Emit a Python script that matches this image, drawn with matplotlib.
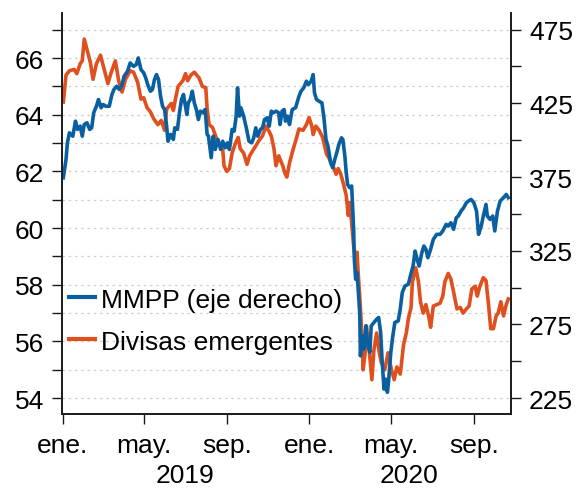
import matplotlib
matplotlib.use("Agg")
import matplotlib.pyplot as plt
import matplotlib.transforms as mtransforms
from matplotlib.lines import Line2D
import pandas as pd

# Divisas emergentes (eje izquierdo)
divisas_fechas = [
    "2019-01-02", "2019-01-06", "2019-01-11", "2019-01-18", "2019-01-22", "2019-01-27",
    "2019-01-30", "2019-02-02", "2019-02-06", "2019-02-11", "2019-02-15", "2019-02-20",
    "2019-02-26", "2019-03-04", "2019-03-09", "2019-03-14", "2019-03-20", "2019-03-25",
    "2019-03-30", "2019-04-04", "2019-04-11", "2019-04-16", "2019-04-22", "2019-04-27",
    "2019-05-01", "2019-05-06", "2019-05-11", "2019-05-16", "2019-05-22", "2019-05-27",
    "2019-06-01", "2019-06-04", "2019-06-11", "2019-06-14", "2019-06-17", "2019-06-21",
    "2019-06-28", "2019-07-02", "2019-07-05", "2019-07-10", "2019-07-15", "2019-07-22",
    "2019-07-27", "2019-08-01", "2019-08-03", "2019-08-06", "2019-08-11", "2019-08-17",
    "2019-08-22", "2019-08-26", "2019-08-28", "2019-09-01", "2019-09-05", "2019-09-09",
    "2019-09-14", "2019-09-18", "2019-09-21", "2019-09-26", "2019-10-01", "2019-10-05",
    "2019-10-10", "2019-10-14", "2019-10-19", "2019-10-24", "2019-10-29", "2019-11-03",
    "2019-11-06", "2019-11-10", "2019-11-13", "2019-11-17", "2019-11-23", "2019-11-26",
    "2019-11-29", "2019-12-03", "2019-12-08", "2019-12-13", "2019-12-17", "2019-12-23",
    "2019-12-28", "2020-01-01", "2020-01-05", "2020-01-07", "2020-01-11", "2020-01-16",
    "2020-01-21", "2020-01-24", "2020-01-27", "2020-01-31", "2020-02-03", "2020-02-07",
    "2020-02-10", "2020-02-13", "2020-02-17", "2020-02-21", "2020-02-25", "2020-02-28",
    "2020-03-01", "2020-03-04", "2020-03-07", "2020-03-10", "2020-03-12", "2020-03-14",
    "2020-03-16", "2020-03-19", "2020-03-21", "2020-03-24", "2020-03-26", "2020-03-30",
    "2020-04-03", "2020-04-06", "2020-04-10", "2020-04-14", "2020-04-17", "2020-04-22",
    "2020-04-27", "2020-05-02", "2020-05-06", "2020-05-10", "2020-05-15", "2020-05-20",
    "2020-05-24", "2020-05-27", "2020-05-31", "2020-06-02", "2020-06-07", "2020-06-11",
    "2020-06-14", "2020-06-18", "2020-06-22", "2020-06-26", "2020-06-29", "2020-07-03",
    "2020-07-08", "2020-07-13", "2020-07-17", "2020-07-20", "2020-07-25", "2020-07-29",
    "2020-08-02", "2020-08-07", "2020-08-12", "2020-08-16", "2020-08-21", "2020-08-25",
    "2020-08-29", "2020-09-03", "2020-09-06", "2020-09-10", "2020-09-15", "2020-09-19",
    "2020-09-23", "2020-09-26", "2020-09-30", "2020-10-04", "2020-10-07", "2020-10-11",
    "2020-10-15", "2020-10-19", "2020-10-22",
]
divisas = [
    64.45, 65.4, 65.55, 65.6, 65.45, 65.8,
    65.9, 66.67, 66.3, 65.85, 65.25, 65.8,
    66.1, 65.55, 65.1, 65.5, 65.9, 65.2,
    64.8, 65.25, 65.55, 65.5, 65.15, 64.55,
    64.6, 64.25, 64.1, 63.85, 63.65, 63.8,
    63.45, 64.2, 64.4, 64.15, 64.55, 65.0,
    65.2, 65.45, 65.2, 65.4, 65.5, 65.3,
    65.0, 64.95, 64.2, 63.65, 63.55, 63.15,
    62.9, 62.8, 62.2, 62.0, 62.1, 62.65,
    63.0, 63.2, 62.8, 62.65, 62.25, 62.55,
    62.75, 62.9, 63.1, 63.25, 63.6, 63.4,
    63.25, 62.8, 62.2, 62.55, 62.2, 61.95,
    61.8, 62.3, 62.75, 63.15, 63.5, 63.45,
    63.65, 63.9, 63.6, 63.3, 63.6, 63.45,
    63.2, 62.9, 62.6, 62.45, 62.25, 62.1,
    61.9, 62.1, 61.9, 61.55, 61.15, 60.45,
    60.9, 60.2, 59.35, 58.8, 59.15, 58.3,
    57.6, 56.3, 55.0, 55.6, 56.55, 55.7,
    54.65, 55.7, 56.3, 55.6, 55.25, 55.0,
    55.6, 55.0, 54.65, 55.1, 54.85, 55.9,
    56.3, 56.8, 57.2, 58.1, 58.6, 58.1,
    57.4, 57.0, 57.3, 56.9, 56.5, 57.25,
    57.3, 57.35, 57.6, 58.1, 58.4, 58.2,
    57.75, 57.15, 57.2, 57.0, 57.15, 57.25,
    57.85, 57.95, 57.6, 57.95, 58.25, 58.15,
    57.25, 56.45, 56.45, 56.9, 57.0, 57.4,
    56.9, 57.3, 57.5,
]

# MMPP (eje derecho)
mmpp_fechas = [
    "2019-01-02", "2019-01-06", "2019-01-08", "2019-01-11", "2019-01-16", "2019-01-20",
    "2019-01-23", "2019-01-27", "2019-01-30", "2019-02-02", "2019-02-06", "2019-02-10",
    "2019-02-13", "2019-02-16", "2019-02-20", "2019-02-23", "2019-02-27", "2019-03-02",
    "2019-03-06", "2019-03-11", "2019-03-15", "2019-03-18", "2019-03-22", "2019-03-26",
    "2019-03-30", "2019-04-02", "2019-04-07", "2019-04-11", "2019-04-16", "2019-04-20",
    "2019-04-23", "2019-04-27", "2019-05-01", "2019-05-04", "2019-05-07", "2019-05-11",
    "2019-05-14", "2019-05-17", "2019-05-20", "2019-05-23", "2019-05-26", "2019-05-29",
    "2019-06-01", "2019-06-04", "2019-06-06", "2019-06-10", "2019-06-14", "2019-06-16",
    "2019-06-20", "2019-06-23", "2019-06-26", "2019-06-29", "2019-07-01", "2019-07-04",
    "2019-07-06", "2019-07-09", "2019-07-12", "2019-07-15", "2019-07-18", "2019-07-21",
    "2019-07-24", "2019-07-28", "2019-07-31", "2019-08-03", "2019-08-05", "2019-08-09",
    "2019-08-12", "2019-08-15", "2019-08-19", "2019-08-23", "2019-08-26", "2019-08-30",
    "2019-09-02", "2019-09-05", "2019-09-09", "2019-09-12", "2019-09-15", "2019-09-17",
    "2019-09-20", "2019-09-22", "2019-09-26", "2019-09-30", "2019-10-04", "2019-10-08",
    "2019-10-11", "2019-10-14", "2019-10-17", "2019-10-21", "2019-10-24", "2019-10-27",
    "2019-10-31", "2019-11-03", "2019-11-06", "2019-11-09", "2019-11-13", "2019-11-17",
    "2019-11-19", "2019-11-22", "2019-11-25", "2019-11-27", "2019-11-30", "2019-12-03",
    "2019-12-07", "2019-12-12", "2019-12-17", "2019-12-20", "2019-12-24", "2019-12-28",
    "2019-12-31", "2020-01-04", "2020-01-07", "2020-01-09", "2020-01-12", "2020-01-16",
    "2020-01-20", "2020-01-23", "2020-01-26", "2020-01-29", "2020-02-02", "2020-02-05",
    "2020-02-08", "2020-02-11", "2020-02-14", "2020-02-18", "2020-02-20", "2020-02-23",
    "2020-02-25", "2020-02-27", "2020-03-01", "2020-03-04", "2020-03-05", "2020-03-07",
    "2020-03-08", "2020-03-10", "2020-03-12", "2020-03-14", "2020-03-16", "2020-03-17",
    "2020-03-20", "2020-03-22", "2020-03-25", "2020-03-27", "2020-03-31", "2020-04-02",
    "2020-04-06", "2020-04-10", "2020-04-13", "2020-04-16", "2020-04-18", "2020-04-21",
    "2020-04-23", "2020-04-26", "2020-04-28", "2020-05-01", "2020-05-04", "2020-05-07",
    "2020-05-12", "2020-05-15", "2020-05-18", "2020-05-22", "2020-05-27", "2020-05-30",
    "2020-06-03", "2020-06-06", "2020-06-09", "2020-06-12", "2020-06-16", "2020-06-19",
    "2020-06-22", "2020-06-25", "2020-06-29", "2020-07-03", "2020-07-08", "2020-07-13",
    "2020-07-17", "2020-07-22", "2020-07-25", "2020-07-29", "2020-08-02", "2020-08-06",
    "2020-08-09", "2020-08-13", "2020-08-17", "2020-08-21", "2020-08-24", "2020-08-28",
    "2020-09-01", "2020-09-05", "2020-09-08", "2020-09-12", "2020-09-15", "2020-09-19",
    "2020-09-21", "2020-09-25", "2020-09-29", "2020-10-02", "2020-10-06", "2020-10-10",
    "2020-10-15", "2020-10-19", "2020-10-22",
]
mmpp = [
    374.5, 387.0, 398.2, 405.0, 402.7, 412.9,
    407.3, 409.5, 402.7, 410.6, 411.8, 407.3,
    408.4, 418.6, 423.0, 427.6, 422.0, 424.2,
    423.0, 423.0, 431.0, 434.4, 436.6, 434.4,
    437.7, 443.4, 446.7, 452.4, 450.1, 451.3,
    455.8, 447.9, 445.7, 442.3, 437.7, 433.2,
    434.4, 441.1, 444.5, 441.1, 429.8, 423.0,
    420.8, 409.5, 399.3, 403.9, 400.5, 408.4,
    407.3, 418.6, 427.6, 431.0, 425.3, 417.4,
    425.3, 427.6, 433.2, 425.3, 420.8, 414.0,
    419.7, 418.6, 420.8, 403.9, 402.7, 388.1,
    402.7, 393.7, 400.5, 393.7, 399.3, 394.9,
    398.2, 393.7, 407.3, 406.1, 416.3, 435.5,
    416.3, 422.0, 416.3, 408.4, 399.3, 398.2,
    401.6, 408.4, 402.7, 407.3, 408.4, 414.0,
    415.2, 409.5, 419.7, 418.6, 419.7, 418.6,
    410.6, 419.7, 420.8, 412.9, 416.3, 410.6,
    420.8, 422.0, 429.8, 433.2, 435.5, 440.0,
    437.7, 440.0, 444.5, 432.1, 427.6, 426.4,
    425.3, 415.2, 400.5, 395.9, 384.7, 381.3,
    386.9, 391.5, 397.1, 401.6, 400.5, 389.2,
    377.9, 370.0, 367.8, 368.9, 359.8, 339.5,
    319.2, 305.6, 310.2, 296.6, 283.1, 253.7,
    267.2, 258.2, 274.0, 262.7, 256.0, 274.0,
    276.3, 278.5, 279.7, 269.5, 251.4, 231.1,
    237.9, 228.9, 237.9, 256.0, 267.2, 276.3,
    277.4, 285.3, 296.6, 301.1, 302.2, 307.9,
    314.6, 324.8, 319.2, 314.6, 323.7, 328.2,
    326.0, 320.3, 326.0, 332.7, 336.1, 336.1,
    338.4, 342.9, 341.7, 344.0, 339.5, 347.4,
    348.5, 351.9, 354.2, 357.6, 358.7, 359.8,
    357.6, 351.9, 336.1, 341.7, 348.5, 356.4,
    348.5, 346.3, 348.5, 338.4, 351.9, 358.7,
    361.0, 363.2, 361.0,
]

meses_ticks = ["2019-01-01", "2019-05-01", "2019-09-01",
               "2020-01-01", "2020-05-01", "2020-09-01"]
meses_labels = ["ene.", "may.", "sep.", "ene.", "may.", "sep."]
anios = ["2019", "2020"]
anios_pos = ["2019-07-01", "2020-05-28"]

AZUL = "#0A5FA0"
NARANJA = "#E0501E"
FS = 19

plt.rcParams["font.family"] = ["Liberation Sans", "DejaVu Sans"]

fig = plt.figure(figsize=(5.76, 4.89), dpi=100)
ax = fig.add_axes([0.1076, 0.1513, 0.7795, 0.8201])
ax2 = ax.twinx()

ax.plot(pd.to_datetime(divisas_fechas), divisas, color=NARANJA, lw=2.6,
        solid_joinstyle="round")
ax2.plot(pd.to_datetime(mmpp_fechas), mmpp, color=AZUL, lw=2.6,
         solid_joinstyle="round")

ax.set_xlim(pd.Timestamp("2018-12-31"), pd.Timestamp("2020-10-26"))
ax.set_ylim(53.44, 67.59)
ax2.set_ylim(214.2, 486.3)

ax.set_yticks(range(54, 67, 2))
ax.set_yticks(range(55, 68, 2), minor=True)
ax2.set_yticks(range(225, 476, 50))
ax2.set_yticks(range(250, 451, 50), minor=True)

ax.grid(axis="y", which="both", color="#cfcfcf", linestyle=(0, (2, 3)), lw=0.9)
ax.set_axisbelow(True)

ax.set_xticks(pd.to_datetime(meses_ticks))
ax.set_xticklabels(meses_labels)

for a in (ax, ax2):
    a.spines["top"].set_visible(False)
    for s in ("left", "right", "bottom"):
        a.spines[s].set_linewidth(1.2)
        a.spines[s].set_color("#1a1a1a")
    a.tick_params(which="both", direction="out", length=7, width=1,
                  color="#1a1a1a", labelsize=FS, pad=6)
ax.tick_params(axis="x", pad=7)

trans = mtransforms.blended_transform_factory(ax.transData, ax.transAxes)
for pos, txt in zip(anios_pos, anios):
    ax.text(pd.Timestamp(pos), -0.1696, txt, transform=trans, ha="center",
            va="baseline", fontsize=FS)

handles = [Line2D([], [], color=AZUL, lw=3),
           Line2D([], [], color=NARANJA, lw=3)]
ax2.legend(handles, ["MMPP (eje derecho)", "Divisas emergentes"],
           loc="upper left", bbox_to_anchor=(0.0156, 0.315), frameon=False,
           fontsize=FS, handlelength=0.98, handletextpad=0.22,
           labelspacing=0.68, borderpad=0, borderaxespad=0)

fig.savefig("out.png", dpi=100)
